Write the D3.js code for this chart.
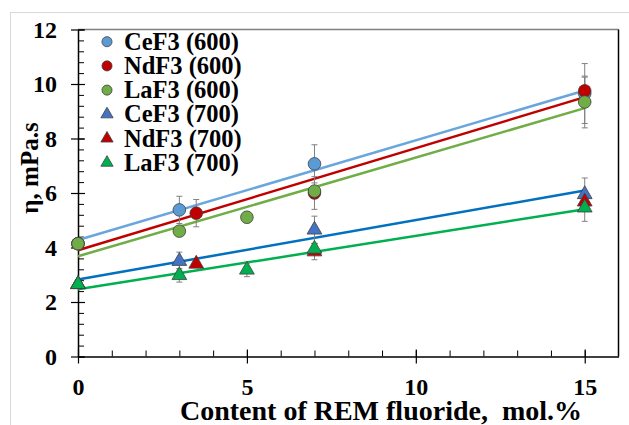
<!DOCTYPE html>
<html>
<head>
<meta charset="utf-8">
<script src="https://cdn.jsdelivr.net/npm/d3@7"></script>
<style>
  body { margin: 0; background: #fff; }
</style>
</head>
<body>
<svg id="chart" width="629" height="425"></svg>
<script>
// data
const xTicks = [0, 5, 10, 15];
const yTicks = [0, 2, 4, 6, 8, 10, 12];

const ceX600 = [0, 3, 7, 15];
const ceY600 = [4.14, 5.38, 7.07, 9.65];
const ceE600 = [0, 0.5, 0.7, 1.1];

const ndX600 = [0, 3.5, 7, 15];
const ndY600 = [4.14, 5.26, 6.0, 9.75];
const ndE600 = [0, 0.5, 0.6, 0.5];

const laX600 = [0, 3, 5, 7, 15];
const laY600 = [4.14, 4.6, 5.11, 6.07, 9.34];
const laE600 = [0.1, 0.15, 0.2, 0.15, 0.95];

const ceX700 = [0, 3, 7, 15];
const ceY700 = [2.65, 3.5, 4.65, 5.95];
const ceE700 = [0, 0.33, 0.5, 0.6];

const ndX700 = [0, 3.5, 7, 15];
const ndY700 = [2.65, 3.4, 3.85, 5.68];
const ndE700 = [0, 0.1, 0.3, 0.3];

const laX700 = [0, 3, 5, 7, 15];
const laY700 = [2.65, 2.98, 3.18, 3.95, 5.46];
const laE700 = [0.1, 0.25, 0.25, 0.2, 0.5];

const series = [
  {name: "CeF3 (600)", xs: ceX600, ys: ceY600, es: ceE600, shape: "circle", fill: "#5B9BD5", line: "#6AA6DE", trend: true},
  {name: "NdF3 (600)", xs: ndX600, ys: ndY600, es: ndE600, shape: "circle", fill: "#C00000", line: "#C00000", trend: true},
  {name: "LaF3 (600)", xs: laX600, ys: laY600, es: laE600, shape: "circle", fill: "#70AD47", line: "#70AD47", trend: true},
  {name: "CeF3 (700)", xs: ceX700, ys: ceY700, es: ceE700, shape: "triangle", fill: "#4472C4", line: "#0070C0", trend: true},
  {name: "NdF3 (700)", xs: ndX700, ys: ndY700, es: ndE700, shape: "triangle", fill: "#C00000", line: "#C00000", trend: false},
  {name: "LaF3 (700)", xs: laX700, ys: laY700, es: laE700, shape: "triangle", fill: "#00B050", line: "#00B050", trend: true}
];

const FONT = "Liberation Serif";

let svg = d3.select("#chart");

let margin = {top: 29.5, right: 10.5, bottom: 68.5, left: 78};
let width = 629 - margin.left - margin.right,
    height = 425 - margin.top - margin.bottom;

// outer chart border
svg.append("rect")
  .attr("x", 10.5).attr("y", 12.5)
  .attr("width", 700).attr("height", 500)
  .attr("fill", "none").attr("stroke", "#d9d9d9");

let g = svg.append("g").attr("transform", `translate(${margin.left}, ${margin.top})`);

let x = d3.scaleLinear().domain([0, 16]).range([0, width]);
let y = d3.scaleLinear().domain([0, 12]).range([height, 0]);

// frame top / right
g.append("line").attr("x1", 0).attr("x2", width).attr("y1", 0).attr("y2", 0)
  .attr("stroke", "#7f7f7f").attr("stroke-width", 1.5);
g.append("line").attr("x1", width).attr("x2", width).attr("y1", 0).attr("y2", height)
  .attr("stroke", "#000").attr("stroke-width", 1.5);

// minor ticks (inside)
g.append("g")
  .attr("transform", `translate(0, ${height})`)
  .call(d3.axisBottom(x).tickValues(d3.range(0, 16, 1)).tickSize(-6).tickFormat(""))
  .call(s => s.select(".domain").remove())
  .selectAll("line").attr("stroke", "#000");
g.append("g")
  .call(d3.axisLeft(y).tickValues(d3.range(0, 12.01, 0.4)).tickSize(-6).tickFormat(""))
  .call(s => s.select(".domain").remove())
  .selectAll("line").attr("stroke", "#000");

// major ticks cross the axis
let xAxis = g.append("g")
  .attr("transform", `translate(0, ${height})`)
  .call(d3.axisBottom(x).tickValues(xTicks).tickSize(7).tickPadding(14).tickSizeOuter(0));
xAxis.selectAll(".tick line").attr("y1", -7);
let yAxis = g.append("g")
  .call(d3.axisLeft(y).tickValues(yTicks).tickSize(7).tickPadding(14).tickSizeOuter(0));
yAxis.selectAll(".tick line").attr("x1", 7);

[xAxis, yAxis].forEach(a => {
  a.select(".domain").attr("stroke", "#000").attr("stroke-width", 1.5);
  a.selectAll(".tick line").attr("stroke", "#000").attr("stroke-width", 1.2);
  a.selectAll(".tick text")
    .attr("fill", "#000")
    .attr("font-family", FONT)
    .attr("font-weight", "bold")
    .attr("font-size", 24);
});

// axis titles
svg.append("text")
  .attr("x", 381).attr("y", 420)
  .attr("text-anchor", "middle")
  .attr("font-family", FONT).attr("font-weight", "bold").attr("font-size", 28)
  .attr("xml:space", "preserve")
  .text("Content of REM fluoride,  mol.%");

svg.append("text")
  .attr("transform", "translate(38, 168) rotate(-90)")
  .attr("text-anchor", "middle")
  .attr("font-family", FONT).attr("font-weight", "bold").attr("font-size", 25)
  .text("η, mPa.s");

// least squares trend lines
function fit(xs, ys) {
  let mx = d3.mean(xs), my = d3.mean(ys);
  let sxy = d3.sum(xs, (v, i) => (v - mx) * (ys[i] - my));
  let sxx = d3.sum(xs, v => (v - mx) * (v - mx));
  let b = sxy / sxx;
  return {a: my - b * mx, b: b};
}

series.filter(s => s.trend).forEach(s => {
  let f = fit(s.xs, s.ys);
  let pts = [0, 15].map(v => [v, f.a + f.b * v]);
  g.append("path")
    .datum(pts)
    .attr("d", d3.line().x(d => x(d[0])).y(d => y(d[1])))
    .attr("fill", "none")
    .attr("stroke", s.line)
    .attr("stroke-width", 2.5);
});

// error bars
series.forEach(s => {
  let pts = s.xs.map((v, i) => ({x: v, y: s.ys[i], e: s.es[i]})).filter(d => d.e > 0);
  let eb = g.append("g").attr("stroke", "#808080").attr("stroke-width", 1);
  eb.selectAll(".bar").data(pts).join("line")
    .attr("x1", d => x(d.x)).attr("x2", d => x(d.x))
    .attr("y1", d => y(d.y - d.e)).attr("y2", d => y(d.y + d.e));
  eb.selectAll(".cap").data(pts.flatMap(d => [{x: d.x, v: d.y - d.e}, {x: d.x, v: d.y + d.e}])).join("line")
    .attr("x1", d => x(d.x) - 3).attr("x2", d => x(d.x) + 3)
    .attr("y1", d => y(d.v)).attr("y2", d => y(d.v));
});

// markers
let circleSym = d3.symbol().type(d3.symbolCircle).size(125);
let triSym = d3.symbol().type(d3.symbolTriangle).size(95);

series.forEach(s => {
  let pts = s.xs.map((v, i) => ({x: v, y: s.ys[i]}));
  g.append("g").selectAll("path").data(pts).join("path")
    .attr("d", s.shape === "circle" ? circleSym : triSym)
    .attr("transform", d => `translate(${x(d.x)}, ${y(d.y)})`)
    .attr("fill", s.fill)
    .attr("stroke", "#404040")
    .attr("stroke-width", 0.8);
});

// legend
let legend = svg.append("g");
series.forEach((s, i) => {
  let cy = 41.7 + i * 24.2;
  legend.append("path")
    .attr("d", s.shape === "circle" ? d3.symbol().type(d3.symbolCircle).size(80)() : d3.symbol().type(d3.symbolTriangle).size(65)())
    .attr("transform", `translate(107, ${cy})`)
    .attr("fill", s.fill)
    .attr("stroke", "#404040")
    .attr("stroke-width", 0.8);
  legend.append("text")
    .attr("x", 124).attr("y", cy + 8)
    .attr("font-family", FONT).attr("font-weight", "bold").attr("font-size", 24.5)
    .text(s.name);
});
</script>
</body>
</html>
